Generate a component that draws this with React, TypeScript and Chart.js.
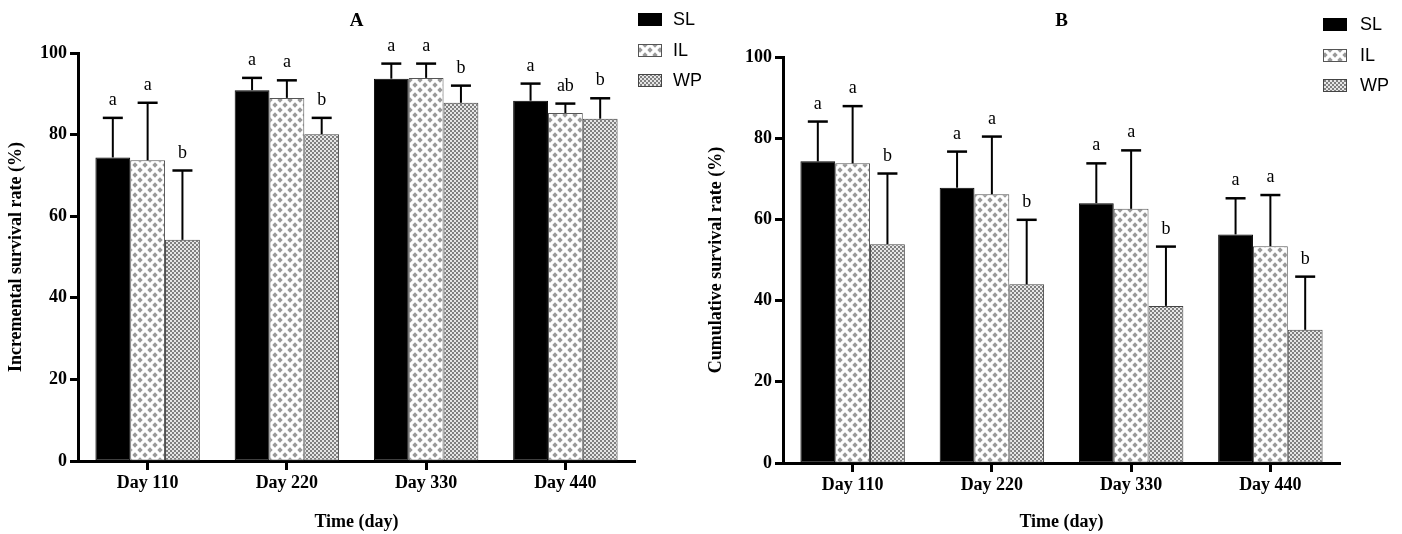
import React, { useEffect, useRef } from "react";
import { Chart, registerables } from "chart.js";
Chart.register(...registerables);

const categories = ["Day 110", "Day 220", "Day 330", "Day 440"];
const seriesNames = ["SL", "IL", "WP"];
const yTicks = [0, 20, 40, 60, 80, 100];

// Panel A – incremental survival rate (%)
const incSL = [74.4, 90.9, 93.7, 88.3];
const incIL = [73.7, 89.0, 93.9, 85.3];
const incWP = [54.2, 80.1, 87.8, 83.9];
const incSLsd = [9.7, 3.0, 3.7, 4.2];
const incILsd = [14.1, 4.3, 3.5, 2.3];
const incWPsd = [17.0, 4.0, 4.2, 5.0];
const incSLlet = ["a", "a", "a", "a"];
const incILlet = ["a", "a", "a", "ab"];
const incWPlet = ["b", "b", "b", "b"];

// Panel B – cumulative survival rate (%)
const cumSL = [74.3, 67.8, 64.0, 56.3];
const cumIL = [73.8, 66.2, 62.6, 53.4];
const cumWP = [53.9, 44.0, 38.7, 32.8];
const cumSLsd = [9.8, 8.9, 9.8, 8.9];
const cumILsd = [14.1, 14.2, 14.4, 12.6];
const cumWPsd = [17.4, 15.9, 14.6, 13.1];
const cumSLlet = ["a", "a", "a", "a"];
const cumILlet = ["a", "a", "a", "a"];
const cumWPlet = ["b", "b", "b", "b"];

const SERIF = '"Liberation Serif", "Times New Roman", serif';
const SANS = '"Liberation Sans", Arial, sans-serif';

function diamondPattern(): CanvasPattern | string {
  const c = document.createElement("canvas");
  c.width = 10;
  c.height = 10;
  const g = c.getContext("2d");
  if (!g) return "#ccc";
  g.fillStyle = "#ffffff";
  g.fillRect(0, 0, 10, 10);
  g.fillStyle = "#9a9a9a";
  const centers = [
    [0, 0], [10, 0], [0, 10], [10, 10], [5, 5],
  ];
  const r = 2.7;
  centers.forEach(([cx, cy]) => {
    g.beginPath();
    g.moveTo(cx, cy - r);
    g.lineTo(cx + r, cy);
    g.lineTo(cx, cy + r);
    g.lineTo(cx - r, cy);
    g.closePath();
    g.fill();
  });
  return g.createPattern(c, "repeat") || "#ccc";
}

function checkerPattern(): CanvasPattern | string {
  const c = document.createElement("canvas");
  c.width = 4;
  c.height = 4;
  const g = c.getContext("2d");
  if (!g) return "#aaa";
  g.fillStyle = "#e6e6e6";
  g.fillRect(0, 0, 4, 4);
  g.fillStyle = "#808080";
  g.fillRect(0, 0, 2, 2);
  g.fillRect(2, 2, 2, 2);
  return g.createPattern(c, "repeat") || "#aaa";
}

type PanelSpec = {
  key: string;
  width: number;
  left: number;
  title: string;
  yTitle: string;
  values: number[][];
  sds: number[][];
  letters: string[][];
  axisLeft: number;
  padRight: number;
  padTop: number;
  xHeight: number;
  legendBoxX: number;
  legendTextX: number;
  legendRows: number[];
};

const panels: PanelSpec[] = [
  {
    key: "A",
    width: 712,
    left: 0,
    title: "A",
    yTitle: "Incremental survival rate (%)",
    values: [incSL, incIL, incWP],
    sds: [incSLsd, incILsd, incWPsd],
    letters: [incSLlet, incILlet, incWPlet],
    axisLeft: 78,
    padRight: 77,
    padTop: 53,
    xHeight: 73,
    legendBoxX: 638,
    legendTextX: 673,
    legendRows: [19, 50, 80],
  },
  {
    key: "B",
    width: 702,
    left: 700,
    title: "B",
    yTitle: "Cumulative survival rate (%)",
    values: [cumSL, cumIL, cumWP],
    sds: [cumSLsd, cumILsd, cumWPsd],
    letters: [cumSLlet, cumILlet, cumWPlet],
    axisLeft: 83,
    padRight: 62,
    padTop: 57,
    xHeight: 71,
    legendBoxX: 623,
    legendTextX: 660,
    legendRows: [24, 55, 85],
  },
];

function Panel({ spec }: { spec: PanelSpec }) {
  const ref = useRef<HTMLCanvasElement | null>(null);
  useEffect(() => {
    if (!ref.current) return;
    const fills = ["#000000", diamondPattern(), checkerPattern()];
    const borders = ["#000000", "#555555", "#444444"];

    const overlay = {
      id: "overlay" + spec.key,
      afterDatasetsDraw(chart: any) {
        const ctx = chart.ctx;
        const ys = chart.scales.y;
        ctx.save();
        chart.data.datasets.forEach((ds: any, di: number) => {
          const meta = chart.getDatasetMeta(di);
          meta.data.forEach((bar: any, i: number) => {
            const v = ds.data[i] as number;
            const top = ys.getPixelForValue(v + spec.sds[di][i]);
            const x = bar.x;
            ctx.strokeStyle = "#000";
            ctx.lineWidth = 2;
            ctx.beginPath();
            ctx.moveTo(x, bar.y);
            ctx.lineTo(x, top);
            ctx.stroke();
            ctx.lineWidth = 2.5;
            ctx.beginPath();
            ctx.moveTo(x - 10, top);
            ctx.lineTo(x + 10, top);
            ctx.stroke();
            ctx.fillStyle = "#000";
            ctx.font = "18px " + SERIF;
            ctx.textAlign = "center";
            ctx.textBaseline = "alphabetic";
            ctx.fillText(spec.letters[di][i], x, top - 13);
          });
        });
        ctx.restore();
      },
      afterDraw(chart: any) {
        const ctx = chart.ctx;
        const ca = chart.chartArea;
        ctx.save();
        // panel letter
        ctx.fillStyle = "#000";
        ctx.font = "bold 19px " + SERIF;
        ctx.textAlign = "center";
        ctx.textBaseline = "middle";
        ctx.fillText(spec.title, (ca.left + ca.right) / 2, 21);
        // legend
        chart.data.datasets.forEach((ds: any, di: number) => {
          const cy = spec.legendRows[di];
          ctx.fillStyle = ds.backgroundColor;
          ctx.fillRect(spec.legendBoxX, cy - 6, 24, 13);
          ctx.strokeStyle = ds.borderColor;
          ctx.lineWidth = 1;
          ctx.strokeRect(spec.legendBoxX + 0.5, cy - 5.5, 23, 12);
          ctx.fillStyle = "#000";
          ctx.font = "18px " + SANS;
          ctx.textAlign = "left";
          ctx.textBaseline = "middle";
          ctx.fillText(ds.label, spec.legendTextX, cy + 1);
        });
        ctx.restore();
      },
    };

    const chart = new Chart(ref.current, {
      type: "bar",
      data: {
        labels: categories,
        datasets: seriesNames.map((name, di) => ({
          label: name,
          data: spec.values[di],
          backgroundColor: fills[di] as any,
          borderColor: borders[di],
          borderWidth: 1,
          borderSkipped: false,
          categoryPercentage: 0.75,
          barPercentage: 1,
        })),
      },
      options: {
        responsive: false,
        animation: false,
        events: [],
        layout: {
          padding: { left: 0, right: spec.padRight, top: spec.padTop, bottom: 0 },
        },
        plugins: {
          legend: { display: false },
          title: { display: false },
          tooltip: { enabled: false },
        },
        scales: {
          x: {
            type: "category",
            offset: true,
            afterFit: (s: any) => {
              s.height = spec.xHeight;
            },
            border: { display: true, color: "#000", width: 3 },
            grid: {
              display: true,
              offset: false,
              drawOnChartArea: false,
              drawTicks: true,
              tickLength: 9,
              tickWidth: 3,
              tickColor: "#000",
              color: "#000",
            },
            ticks: {
              color: "#000",
              font: { family: SERIF, size: 18, weight: "bold" },
              padding: 3,
              maxRotation: 0,
            },
            title: {
              display: true,
              text: "Time (day)",
              color: "#000",
              font: { family: SERIF, size: 18, weight: "bold" },
              padding: { top: 0, bottom: 1 },
            },
          },
          y: {
            min: 0,
            max: 100,
            afterFit: (s: any) => {
              s.width = spec.axisLeft;
            },
            afterBuildTicks: (s: any) => {
              s.ticks = yTicks.map((v) => ({ value: v }));
            },
            border: { display: true, color: "#000", width: 3 },
            grid: {
              display: true,
              drawOnChartArea: false,
              drawTicks: true,
              tickLength: 8,
              tickWidth: 3,
              tickColor: "#000",
              color: "#000",
            },
            ticks: {
              color: "#000",
              font: { family: SERIF, size: 18, weight: "bold" },
              padding: 3,
            },
            title: {
              display: true,
              text: spec.yTitle,
              color: "#000",
              font: { family: SERIF, size: 18, weight: "bold" },
              padding: { top: 6, bottom: 0 },
            },
          },
        },
      } as any,
      plugins: [overlay],
    });
    return () => chart.destroy();
  }, [spec]);

  return (
    <canvas
      ref={ref}
      width={spec.width}
      height={534}
      style={{ position: "absolute", left: spec.left, top: 0, width: spec.width, height: 534 }}
    />
  );
}

export default function App() {
  return (
    <div
      style={{
        position: "absolute",
        left: 0,
        top: 0,
        width: 1402,
        height: 534,
        background: "#fff",
        overflow: "hidden",
      }}
    >
      {panels.map((p) => (
        <Panel key={p.key} spec={p} />
      ))}
    </div>
  );
}
